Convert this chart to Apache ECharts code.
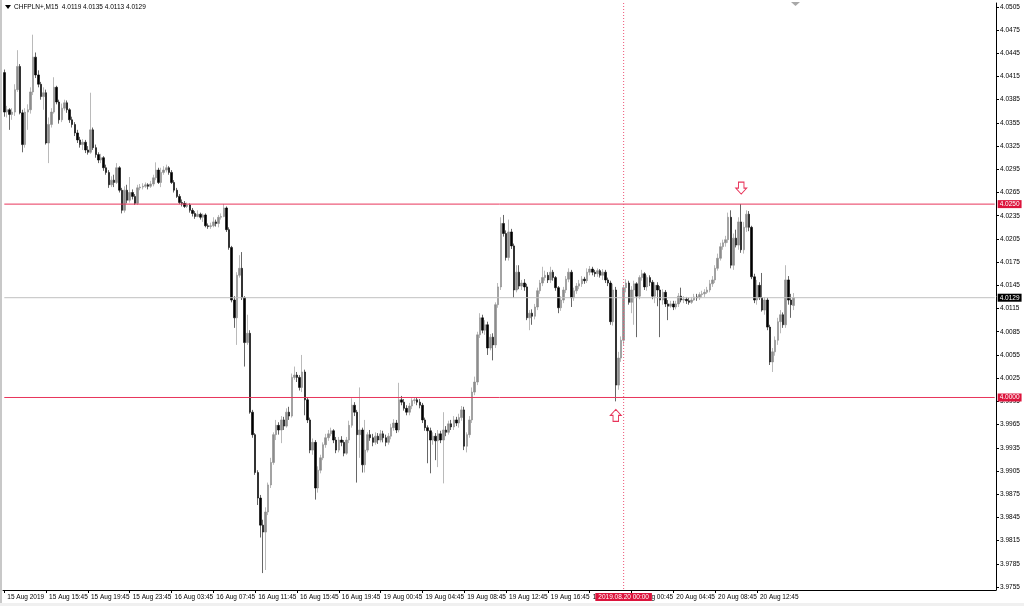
<!DOCTYPE html>
<html><head><meta charset="utf-8">
<script src="https://cdn.jsdelivr.net/npm/echarts@6/dist/echarts.min.js"></script>
<style>html,body{margin:0;padding:0;background:#fff}#c{width:1024px;height:606px}</style>
</head><body><div id="c"></div>
<script>
// candles: [open, close, low, high]
const day15 = [
[4.0420,4.0369,4.0363,4.0424],[4.0369,4.0372,4.0362,4.0377],[4.0372,4.0366,4.0346,4.0374],[4.0366,4.0369,4.0359,4.0374],
[4.0369,4.0398,4.0364,4.0405],[4.0398,4.0428,4.0395,4.0449],[4.0428,4.0368,4.0366,4.0431],[4.0368,4.0327,4.0317,4.0372],
[4.0327,4.0369,4.0323,4.0374],[4.0369,4.0372,4.0346,4.0379],[4.0372,4.0395,4.0367,4.0401],[4.0395,4.0440,4.0391,4.0469],
[4.0440,4.0417,4.0413,4.0446],[4.0417,4.0405,4.0401,4.0423],[4.0405,4.0389,4.0385,4.0408],[4.0389,4.0394,4.0372,4.0401],
[4.0394,4.0329,4.0327,4.0398],[4.0329,4.0353,4.0303,4.0362],[4.0353,4.0369,4.0349,4.0374],[4.0369,4.0401,4.0367,4.0414],
[4.0401,4.0382,4.0379,4.0403],[4.0382,4.0359,4.0354,4.0385],[4.0359,4.0374,4.0356,4.0380],[4.0374,4.0381,4.0371,4.0385],
[4.0381,4.0372,4.0368,4.0384],[4.0372,4.0359,4.0355,4.0374],[4.0359,4.0353,4.0349,4.0363],[4.0353,4.0342,4.0338,4.0356],
[4.0342,4.0333,4.0329,4.0346],[4.0333,4.0327,4.0323,4.0337],[4.0327,4.0330,4.0320,4.0334],[4.0330,4.0320,4.0316,4.0333],
[4.0320,4.0317,4.0314,4.0325],[4.0317,4.0346,4.0315,4.0394],[4.0346,4.0323,4.0320,4.0349],[4.0323,4.0314,4.0310,4.0327],
[4.0314,4.0307,4.0303,4.0317],[4.0307,4.0310,4.0303,4.0315],[4.0310,4.0297,4.0293,4.0312],[4.0297,4.0291,4.0288,4.0301],
[4.0291,4.0275,4.0271,4.0294],[4.0275,4.0281,4.0272,4.0286],[4.0281,4.0278,4.0272,4.0288],[4.0278,4.0297,4.0276,4.0303],
[4.0297,4.0268,4.0265,4.0299],[4.0268,4.0242,4.0238,4.0271],[4.0242,4.0268,4.0239,4.0273],[4.0268,4.0255,4.0251,4.0275],
[4.0255,4.0265,4.0252,4.0285]
];
const day16 = [
[4.0265,4.0260,4.0256,4.0269],[4.0260,4.0251,4.0249,4.0263],[4.0251,4.0271,4.0249,4.0275],[4.0271,4.0272,4.0268,4.0276],
[4.0272,4.0273,4.0269,4.0277],[4.0273,4.0275,4.0271,4.0278],[4.0275,4.0273,4.0269,4.0277],[4.0273,4.0276,4.0271,4.0280],
[4.0276,4.0284,4.0273,4.0288],[4.0284,4.0294,4.0281,4.0304],[4.0294,4.0278,4.0276,4.0297],[4.0278,4.0291,4.0272,4.0297],
[4.0291,4.0294,4.0288,4.0299],[4.0294,4.0297,4.0291,4.0301],[4.0297,4.0291,4.0288,4.0299],[4.0291,4.0278,4.0276,4.0294],
[4.0278,4.0268,4.0265,4.0281],[4.0268,4.0260,4.0258,4.0271],[4.0260,4.0252,4.0250,4.0263],[4.0252,4.0251,4.0247,4.0256],
[4.0251,4.0247,4.0245,4.0254],[4.0247,4.0249,4.0245,4.0252],[4.0249,4.0242,4.0239,4.0251],[4.0242,4.0238,4.0234,4.0245],
[4.0238,4.0234,4.0231,4.0241],[4.0234,4.0237,4.0233,4.0242],[4.0237,4.0233,4.0230,4.0239],[4.0233,4.0236,4.0227,4.0238],
[4.0236,4.0222,4.0220,4.0238],[4.0222,4.0221,4.0218,4.0225],[4.0221,4.0222,4.0218,4.0226],[4.0222,4.0227,4.0220,4.0233],
[4.0227,4.0225,4.0221,4.0230],[4.0225,4.0233,4.0220,4.0236],[4.0233,4.0234,4.0230,4.0238],[4.0234,4.0245,4.0233,4.0250],
[4.0245,4.0217,4.0214,4.0247],[4.0217,4.0194,4.0191,4.0220],[4.0194,4.0126,4.0123,4.0196],[4.0126,4.0103,4.0090,4.0131],
[4.0103,4.0158,4.0068,4.0162],[4.0158,4.0167,4.0155,4.0184],[4.0167,4.0129,4.0126,4.0188],[4.0129,4.0071,4.0040,4.0131],
[4.0071,4.0083,4.0068,4.0107],[4.0083,3.9981,3.9979,4.0087],[3.9981,3.9952,3.9948,3.9984],[3.9952,3.9903,3.9900,3.9954],
[3.9903,3.9870,3.9861,3.9906],[3.9870,3.9835,3.9819,3.9874],[3.9835,3.9826,3.9773,3.9842],[3.9826,3.9852,3.9777,3.9858],
[3.9852,3.9887,3.9848,3.9890],[3.9887,3.9916,3.9883,3.9922],[3.9916,3.9952,3.9913,3.9955],[3.9952,3.9964,3.9945,3.9971],
[3.9964,3.9958,3.9952,3.9968],[3.9958,3.9971,3.9941,3.9976],[3.9971,3.9963,3.9958,3.9975],[3.9963,3.9981,3.9961,3.9986],
[3.9981,3.9976,3.9971,3.9988],[3.9976,4.0026,3.9974,4.0031],[4.0026,4.0029,4.0023,4.0040],[4.0029,4.0026,4.0020,4.0033],
[4.0026,4.0013,4.0009,4.0029],[4.0013,4.0033,4.0007,4.0055],[4.0033,3.9997,3.9977,4.0036],[3.9997,3.9971,3.9967,4.0000],
[3.9971,3.9932,3.9928,3.9974],[3.9932,3.9942,3.9926,3.9947],[3.9942,3.9883,3.9868,3.9945],[3.9883,3.9906,3.9877,3.9911],
[3.9906,3.9922,3.9902,3.9926],[3.9922,3.9939,3.9919,3.9942],[3.9939,3.9948,3.9935,3.9953],[3.9948,3.9953,3.9944,3.9958],
[3.9953,3.9957,3.9950,3.9961],[3.9957,3.9945,3.9941,3.9959],[3.9945,3.9932,3.9928,3.9949],[3.9932,3.9945,3.9929,3.9949],
[3.9945,3.9942,3.9937,3.9950],[3.9942,3.9928,3.9924,3.9945],[3.9928,3.9945,3.9926,3.9949],[3.9945,3.9964,3.9941,3.9970],
[3.9964,3.9990,3.9961,3.9999],[3.9990,3.9981,3.9976,3.9994],[3.9981,3.9952,3.9890,3.9984],[3.9952,3.9958,3.9922,4.0013],
[3.9958,3.9913,3.9903,3.9961],[3.9913,3.9932,3.9903,3.9971],[3.9932,3.9952,3.9929,3.9955],[3.9952,3.9948,3.9944,3.9958]
];
const day19 = [
[3.9948,3.9942,3.9937,3.9953],[3.9942,3.9950,3.9939,3.9955],[3.9950,3.9945,3.9940,3.9954],[3.9945,3.9953,3.9942,3.9958],
[3.9953,3.9948,3.9942,3.9957],[3.9948,3.9942,3.9937,3.9952],[3.9942,3.9950,3.9939,3.9954],[3.9950,3.9961,3.9946,3.9966],
[3.9961,3.9967,3.9957,3.9972],[3.9967,3.9958,3.9954,3.9971],[3.9958,3.9997,3.9955,4.0019],[3.9997,3.9994,3.9990,4.0002],
[3.9994,3.9986,3.9983,3.9998],[3.9986,3.9981,3.9977,3.9990],[3.9981,3.9989,3.9977,3.9993],[3.9989,3.9996,3.9985,3.9999],
[3.9996,3.9997,3.9992,4.0000],[3.9997,3.9994,3.9990,4.0000],[3.9994,3.9990,3.9986,3.9998],[3.9990,3.9971,3.9967,3.9993],
[3.9971,3.9961,3.9957,3.9974],[3.9961,3.9957,3.9915,3.9964],[3.9957,3.9945,3.9902,3.9961],[3.9945,3.9950,3.9939,3.9955],
[3.9950,3.9944,3.9919,3.9954],[3.9944,3.9953,3.9910,3.9958],[3.9953,3.9945,3.9941,3.9957],[3.9945,3.9958,3.9889,3.9981],
[3.9958,3.9955,3.9950,3.9963],[3.9955,3.9966,3.9952,3.9970],[3.9966,3.9962,3.9958,3.9971],[3.9962,3.9971,3.9958,3.9976],
[3.9971,3.9967,3.9963,3.9975],[3.9967,3.9974,3.9961,3.9979],[3.9974,3.9984,3.9970,3.9989],[3.9984,3.9937,3.9932,3.9988],
[3.9937,3.9952,3.9929,3.9955],[3.9952,3.9971,3.9948,3.9976],[3.9971,4.0007,3.9967,4.0013],[4.0007,4.0020,4.0003,4.0027],
[4.0020,4.0081,4.0016,4.0085],[4.0081,4.0103,4.0077,4.0109],[4.0103,4.0087,4.0083,4.0107],[4.0087,4.0094,4.0081,4.0100],
[4.0094,4.0064,4.0055,4.0098],[4.0064,4.0078,4.0061,4.0082],[4.0078,4.0068,4.0048,4.0083],[4.0068,4.0120,4.0064,4.0123],
[4.0120,4.0143,4.0116,4.0148],[4.0143,4.0225,4.0139,4.0233],[4.0225,4.0212,4.0208,4.0236],[4.0212,4.0181,4.0177,4.0216],
[4.0181,4.0214,4.0177,4.0230],[4.0214,4.0196,4.0192,4.0218],[4.0196,4.0139,4.0129,4.0199],[4.0139,4.0162,4.0136,4.0171],
[4.0162,4.0144,4.0140,4.0171],[4.0144,4.0148,4.0139,4.0152],[4.0148,4.0143,4.0138,4.0153],[4.0143,4.0103,4.0100,4.0147],
[4.0103,4.0109,4.0087,4.0113],[4.0109,4.0105,4.0094,4.0114],[4.0105,4.0117,4.0101,4.0121],[4.0117,4.0138,4.0113,4.0142],
[4.0138,4.0148,4.0134,4.0152],[4.0148,4.0155,4.0144,4.0169],[4.0155,4.0158,4.0151,4.0164],[4.0158,4.0152,4.0148,4.0162],
[4.0152,4.0162,4.0148,4.0169],[4.0162,4.0155,4.0151,4.0165],[4.0155,4.0142,4.0138,4.0157],[4.0142,4.0116,4.0109,4.0144],
[4.0116,4.0126,4.0112,4.0131],[4.0126,4.0139,4.0122,4.0143],[4.0139,4.0153,4.0135,4.0157],[4.0153,4.0162,4.0149,4.0167],
[4.0162,4.0129,4.0117,4.0165],[4.0129,4.0138,4.0125,4.0142],[4.0138,4.0144,4.0134,4.0148],[4.0144,4.0147,4.0140,4.0152],
[4.0147,4.0153,4.0143,4.0157],[4.0153,4.0151,4.0147,4.0156],[4.0151,4.0162,4.0148,4.0167],[4.0162,4.0166,4.0158,4.0170],
[4.0166,4.0162,4.0158,4.0169],[4.0162,4.0160,4.0156,4.0165],[4.0160,4.0164,4.0156,4.0167],[4.0164,4.0158,4.0155,4.0166],
[4.0158,4.0162,4.0152,4.0166],[4.0162,4.0152,4.0148,4.0165],[4.0152,4.0148,4.0144,4.0155],[4.0148,4.0098,4.0094,4.0151],
[4.0098,4.0139,4.0093,4.0147],[4.0139,4.0016,3.9995,4.0143],[4.0016,4.0051,4.0010,4.0059],[4.0051,4.0074,4.0046,4.0079]
];
const day20 = [
[4.0074,4.0142,4.0068,4.0145],[4.0142,4.0148,4.0136,4.0153],[4.0148,4.0123,4.0120,4.0151],[4.0123,4.0139,4.0109,4.0144],
[4.0139,4.0147,4.0094,4.0151],[4.0147,4.0131,4.0078,4.0149],[4.0131,4.0155,4.0127,4.0158],[4.0155,4.0160,4.0151,4.0165],
[4.0160,4.0143,4.0139,4.0162],[4.0143,4.0155,4.0138,4.0158],[4.0155,4.0149,4.0144,4.0158],[4.0149,4.0131,4.0127,4.0152],
[4.0131,4.0145,4.0122,4.0149],[4.0145,4.0139,4.0118,4.0149],[4.0139,4.0126,4.0078,4.0144],[4.0126,4.0136,4.0120,4.0140],
[4.0136,4.0121,4.0117,4.0139],[4.0121,4.0118,4.0100,4.0126],[4.0118,4.0121,4.0116,4.0125],[4.0121,4.0117,4.0113,4.0125],
[4.0117,4.0121,4.0114,4.0125],[4.0121,4.0131,4.0117,4.0135],[4.0131,4.0126,4.0123,4.0142],[4.0126,4.0127,4.0122,4.0131],
[4.0127,4.0125,4.0121,4.0130],[4.0125,4.0123,4.0120,4.0129],[4.0123,4.0126,4.0121,4.0130],[4.0126,4.0130,4.0125,4.0134],
[4.0130,4.0129,4.0125,4.0134],[4.0129,4.0133,4.0126,4.0136],[4.0133,4.0134,4.0129,4.0138],[4.0134,4.0136,4.0130,4.0140],
[4.0136,4.0139,4.0134,4.0143],[4.0139,4.0147,4.0136,4.0152],[4.0147,4.0152,4.0143,4.0157],[4.0152,4.0167,4.0148,4.0171],
[4.0167,4.0180,4.0164,4.0186],[4.0180,4.0195,4.0177,4.0200],[4.0195,4.0200,4.0191,4.0204],[4.0200,4.0204,4.0195,4.0209],
[4.0204,4.0233,4.0200,4.0239],[4.0233,4.0171,4.0167,4.0242],[4.0171,4.0206,4.0165,4.0212],[4.0206,4.0197,4.0194,4.0217],
[4.0197,4.0227,4.0191,4.0233],[4.0227,4.0191,4.0187,4.0250],[4.0191,4.0220,4.0186,4.0227],[4.0220,4.0237,4.0214,4.0242],
[4.0237,4.0220,4.0215,4.0241],[4.0220,4.0156,4.0153,4.0222],[4.0156,4.0126,4.0122,4.0160],[4.0126,4.0145,4.0120,4.0152],
[4.0145,4.0129,4.0126,4.0149],[4.0129,4.0113,4.0111,4.0161],[4.0113,4.0126,4.0107,4.0130],[4.0126,4.0091,4.0087,4.0129],
[4.0091,4.0046,4.0042,4.0094],[4.0046,4.0059,4.0033,4.0064],[4.0059,4.0074,4.0054,4.0079],[4.0074,4.0098,4.0068,4.0103],
[4.0098,4.0107,4.0083,4.0113],[4.0107,4.0094,4.0090,4.0110],[4.0094,4.0152,4.0090,4.0171],[4.0152,4.0126,4.0120,4.0157],
[4.0126,4.0120,4.0103,4.0134],[4.0119,4.0129,4.0113,4.0135]
];
const dayInfo = [['15', 11*60+45, day15.length], ['16', 0, day16.length], ['19', 0, day19.length], ['20', 0, day20.length]];
const emptySlots = 77;

const yMin = 3.975114, yMax = 4.0510;
const yTickValues = [4.0505,4.0475,4.0445,4.0415,4.0385,4.0355,4.0325,4.0295,4.0265,4.0235,4.0205,4.0175,4.0145,4.0115,4.0085,4.0055,4.0025,3.9995,3.9965,3.9935,3.9905,3.9875,3.9845,3.9815,3.9785,3.9755];
const xTicks = [[0,'15 Aug 2019'],[16,'15 Aug 15:45'],[32,'15 Aug 19:45'],[48,'15 Aug 23:45'],[64,'16 Aug 03:45'],[80,'16 Aug 07:45'],[96,'16 Aug 11:45'],[112,'16 Aug 15:45'],[128,'16 Aug 19:45'],[144,'19 Aug 00:45'],[160,'19 Aug 04:45'],[176,'19 Aug 08:45'],[192,'19 Aug 12:45'],[208,'19 Aug 16:45'],[224,'19 Aug 20:45'],[240,'20 Aug 00:45'],[256,'20 Aug 04:45'],[272,'20 Aug 08:45'],[288,'20 Aug 12:45']];
const levelLines = [4.0250, 4.0000];
const currentPrice = 4.0129;
const vLineIndex = 237;
const vLineLabel = '2019.08.20 00:00';
const arrows = [{idx: 282, price: 4.0250, dir: 'down'}, {idx: 234, price: 3.9995, dir: 'up'}];
const titleText = 'CHFPLN+,M15  4.0119 4.0135 4.0113 4.0129';

const candles = day15.concat(day16, day19, day20);
const pad = n => (n < 10 ? '0' : '') + n;
const categories = [];
dayInfo.forEach(([d, m0, n]) => {
  for (let k = 0; k < n; k++) {
    const m = m0 + 15 * k;
    categories.push('2019.08.' + d + ' ' + pad(Math.floor(m / 60)) + ':' + pad(m % 60));
  }
});
for (let k = 0; k < emptySlots; k++) categories.push('e' + k);
const firstCat = categories[0], lastCat = categories[categories.length - 1];
const tickMap = {};
xTicks.forEach(([i, t]) => tickMap[i] = t);

const RED = '#e8345a', REDBG = '#dc143c';
const FONT = 'Liberation Sans';
const FS = 6.5;
const tagStyle = {show: true, color: '#fff', fontSize: FS, fontFamily: FONT, padding: [1, 2, 0, 2]};

// horizontal price line drawn as a two-point line series on its own layer, its price tag as endLabel
function hLine(v, color, bg) {
  return {
    type: 'line', data: [[firstCat, v], [lastCat, v]], symbol: 'none', silent: true, zlevel: 1, z: 6, clip: false,
    color: color, lineStyle: {color: color, width: 1, type: 'solid', opacity: 1},
    emphasis: {disabled: true},
    endLabel: Object.assign({}, tagStyle, {formatter: v.toFixed(4), backgroundColor: bg, distance: 3})
  };
}

const series = [{
  type: 'candlestick', data: candles, large: false, clip: false, z: 2,
  barWidth: 2,
  itemStyle: {color: '#8c8c8c', color0: '#000', borderColor: '#8c8c8c', borderColor0: '#000', borderColorDoji: '#8c8c8c', borderWidth: 0.6}
}];
series.push(hLine(currentPrice, '#c0c0c0', '#000'));
levelLines.forEach(v => series.push(hLine(v, RED, REDBG)));
series.push({
  type: 'line', data: [[categories[vLineIndex], yMax], [categories[vLineIndex], yMin]], symbol: 'none', silent: true, zlevel: 1, z: 6, clip: false,
  color: '#ee5577', lineStyle: {color: '#ee5577', width: 1, type: [1, 2]},
  emphasis: {disabled: true},
  markPoint: {
    silent: true, animation: false, symbol: 'rect', symbolSize: 0,
    data: [{coord: [categories[vLineIndex], yMin],
      label: Object.assign({}, tagStyle, {position: 'inside', offset: [0, 7], formatter: vLineLabel, backgroundColor: REDBG, padding: [1, 3, 0, 3]})}]
  }
});
series.push({
  type: 'line', data: [], silent: true, symbol: 'none', zlevel: 1, z: 7,
  markPoint: {
    silent: true, animation: false,
    data: arrows.map(a => ({
      coord: [categories[a.idx], a.price],
      symbol: a.dir === 'down' ? 'path://M3,0 L9,0 L9,6 L12,6 L6,12 L0,6 L3,6 Z' : 'path://M6,0 L12,6 L9,6 L9,12 L3,12 L3,6 L0,6 Z',
      symbolSize: [11, 12], symbolKeepAspect: false,
      symbolOffset: [0, a.dir === 'down' ? -16 : 14],
      itemStyle: {color: '#fff', borderColor: RED, borderWidth: 1},
      label: {show: false}
    }))
  }
});

const chart = echarts.init(document.getElementById('c'), null, {renderer: 'canvas'});
chart.setOption({
  animation: false,
  backgroundColor: '#fff',
  grid: {left: 3, right: 28, top: 3, bottom: 16},
  title: {text: titleText, left: 14, top: 4, padding: 0, textStyle: {fontSize: FS, fontWeight: 'normal', fontFamily: FONT, color: '#000'}},
  graphic: [
    {type: 'polygon', shape: {points: [[5, 5], [11, 5], [8, 9]]}, style: {fill: '#000'}},
    {type: 'polygon', shape: {points: [[791, 2], [800, 2], [795.5, 6]]}, style: {fill: '#a8a8a8'}},
    {type: 'rect', shape: {x: 0, y: 0, width: 2, height: 606}, style: {fill: '#c8c8c8'}},
    {type: 'rect', shape: {x: 0, y: 603, width: 1024, height: 3}, style: {fill: '#f0f0f0'}}
  ],
  xAxis: {
    type: 'category', data: categories, boundaryGap: true,
    axisLine: {show: true, onZero: false, lineStyle: {color: '#000', width: 1}},
    axisTick: {show: true, alignWithLabel: true, length: 3, interval: i => tickMap[i] !== undefined, lineStyle: {color: '#000'}},
    axisLabel: {interval: i => tickMap[i] !== undefined, formatter: (v, i) => tickMap[i] || '', align: 'left', margin: 4,
      showMinLabel: true, showMaxLabel: true,
      fontSize: FS, fontFamily: FONT, color: '#000', hideOverlap: false, padding: [0, 0, 0, 3]},
    splitLine: {show: false}
  },
  yAxis: {
    type: 'value', position: 'right', min: yMin, max: yMax,
    axisLine: {show: true, onZero: false, lineStyle: {color: '#000', width: 1}},
    axisTick: {show: true, length: 3, customValues: yTickValues, lineStyle: {color: '#000'}},
    axisLabel: {customValues: yTickValues, formatter: v => v.toFixed(4), margin: 4, fontSize: FS, fontFamily: FONT, color: '#000'},
    splitLine: {show: false}, minorSplitLine: {show: false}
  },
  series: series
});
</script></body></html>
